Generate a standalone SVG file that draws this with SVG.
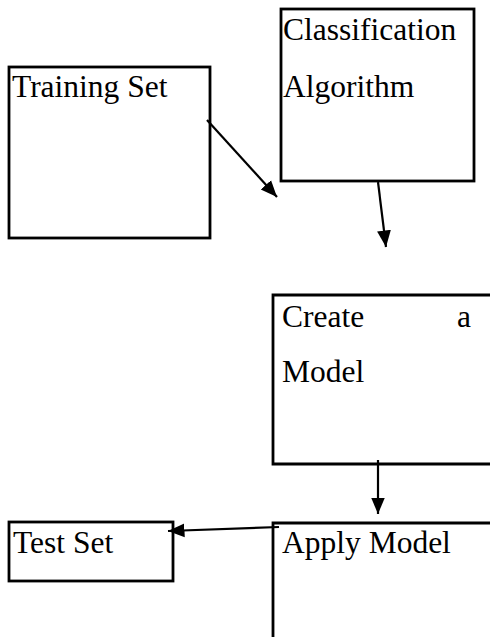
<svg xmlns="http://www.w3.org/2000/svg" width="490" height="637" viewBox="0 0 490 637">
<style>
.box{fill:none;stroke:#000;stroke-width:2.8}
.t{font-family:"Liberation Serif","Times New Roman",serif;font-size:31.5px;fill:#000}
.c{stroke:#000;stroke-width:2.2;fill:none;marker-end:url(#ah)}
</style>
<defs>
<marker id="ah" viewBox="0 0 10 10" refX="10" refY="5" markerWidth="7.5" markerHeight="7.5" orient="auto" markerUnits="strokeWidth">
<path d="M0,0.8 L10,5 L0,9.2 z" fill="#000"/>
</marker>
</defs>
<rect width="490" height="637" fill="#fff"/>
<g id="training-set">
<rect class="box" x="9" y="67" width="201" height="171"/>
<text class="t" x="12" y="97">Training Set</text>
</g>
<g id="classification-algorithm">
<rect class="box" x="281" y="9" width="193" height="172"/>
<text class="t" x="283" y="40">Classification</text>
<text class="t" x="283" y="97">Algorithm</text>
</g>
<g id="create-model">
<path class="box" d="M495,295 H273 V464 H495"/>
<text class="t" x="282" y="327">Create</text>
<text class="t" x="457" y="327">a</text>
<text class="t" x="282" y="382">Model</text>
</g>
<g id="apply-model">
<path class="box" d="M495,523 H273 V640"/>
<text class="t" x="282" y="553">Apply Model</text>
</g>
<g id="test-set">
<rect class="box" x="9" y="522" width="164" height="59"/>
<text class="t" x="13" y="553">Test Set</text>
</g>
<g id="connectors">
<line class="c" x1="207" y1="120" x2="277" y2="197"/>
<line class="c" x1="378" y1="182" x2="386" y2="247"/>
<line class="c" x1="378" y1="460" x2="378" y2="514"/>
<line class="c" x1="279" y1="527" x2="168" y2="531"/>
</g>
</svg>
